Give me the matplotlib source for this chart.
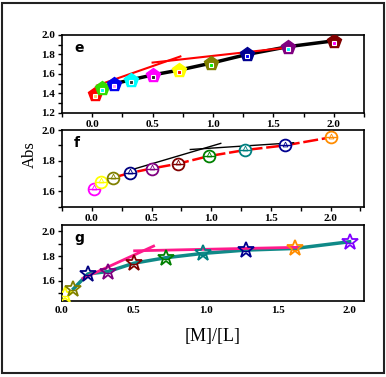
import matplotlib
matplotlib.use("Agg")
import matplotlib.pyplot as plt
import numpy as np
from matplotlib.patches import Rectangle
from matplotlib.ticker import MultipleLocator

# ratio [M]/[L]
ratio = [0.02, 0.08, 0.18, 0.32, 0.50, 0.72, 0.98, 1.28, 1.62, 2.00]

# panel e: pentagons
abs_e = [1.39, 1.46, 1.50, 1.54, 1.59, 1.64, 1.71, 1.80, 1.88, 1.94]
edge_e = ['red', '#33dd00', '#0000ee', 'cyan', 'magenta', 'yellow', '#808000', '#000090', '#800080', '#800000']
inner_e = ['#ffcc66', 'cyan', '#ff99ff', '#333333', '#222222', 'red', '#00ee00', '#0000ff', 'cyan', 'magenta']
fit_e1_x = [0.04, 0.73]
fit_e1_y = [1.482, 1.78]
fit_e2_x = [0.50, 1.64]
fit_e2_y = [1.717, 1.874]

# panel f: circles
abs_f = [1.618, 1.66, 1.69, 1.72, 1.749, 1.78, 1.83, 1.869, 1.90, 1.952]
edge_f = ['magenta', 'yellow', '#808000', '#000080', '#800080', '#800000', 'green', '#008080', '#000090', '#ff8c00']
fit_f1_x = [0.32, 1.08]
fit_f1_y = [1.738, 1.913]
fit_f2_x = [0.825, 1.69]
fit_f2_y = [1.873, 1.917]

# panel g: stars
abs_g = [1.488, 1.536, 1.656, 1.675, 1.742, 1.786, 1.821, 1.848, 1.861, 1.915]
edge_g = ['yellow', '#808000', '#000080', '#800080', '#800000', 'green', '#008080', '#000090', '#ff8c00', '#8000ff']
fit_g1_x = [0.146, 0.637]
fit_g1_y = [1.62, 1.88]
fit_g2_x = [0.505, 1.634]
fit_g2_y = [1.842, 1.87]

serif = 'Liberation Serif'

fig = plt.figure(figsize=(3.86, 3.77), dpi=100)
fig.patches.append(Rectangle((2/386, 4/377), 382/386, 370/377, transform=fig.transFigure,
                             fill=False, edgecolor='#222222', linewidth=1.5))

ax_e = fig.add_axes([0.1606, 0.7003, 0.7824, 0.2069])
ax_f = fig.add_axes([0.1606, 0.4517, 0.7824, 0.2034])
ax_g = fig.add_axes([0.1606, 0.2024, 0.7824, 0.2008])


def style(ax, label):
    for s in ax.spines.values():
        s.set_linewidth(1.2)
    ax.xaxis.set_major_locator(MultipleLocator(0.5))
    ax.xaxis.set_minor_locator(MultipleLocator(0.25))
    ax.tick_params(which='both', direction='out', width=1, labelsize=8, pad=2)
    ax.tick_params(which='major', length=3)
    ax.tick_params(which='minor', length=3)
    for t in ax.get_xticklabels() + ax.get_yticklabels():
        t.set_fontfamily(serif)
        t.set_fontweight('bold')
    ax.text(0.04, 0.78, label, transform=ax.transAxes, fontsize=10,
            fontweight='bold', fontfamily='DejaVu Sans')


# e
ax_e.plot(ratio[1:], abs_e[1:], color='black', lw=2.5, zorder=1)
ax_e.plot(fit_e1_x, fit_e1_y, color='red', lw=1.5, zorder=2)
ax_e.plot(fit_e2_x, fit_e2_y, color='red', lw=1.5, zorder=2)
for xv, yv, ec, ic in zip(ratio, abs_e, edge_e, inner_e):
    ax_e.plot(xv, yv, marker='p', ms=10, color=ec, mec=ec, zorder=3)
    ax_e.plot(xv, yv - 0.02, marker='s', ms=3.5, color=ic, mec='white', mew=0.8, zorder=4)
ax_e.set_xlim(-0.25, 2.25)
ax_e.set_ylim(1.2, 2.0)
ax_e.yaxis.set_major_locator(MultipleLocator(0.2))
ax_e.yaxis.set_minor_locator(MultipleLocator(0.1))
style(ax_e, 'e')

# f
ax_f.plot(ratio[1:], abs_f[1:], color='red', lw=1.8, ls=(0, (6, 1.5)), zorder=1)
ax_f.plot(fit_f1_x, fit_f1_y, color='black', lw=1, zorder=2)
ax_f.plot(fit_f2_x, fit_f2_y, color='black', lw=1, zorder=2)
for xv, yv, ec in zip(ratio, abs_f, edge_f):
    ax_f.plot(xv, yv, marker='o', ms=8.5, mfc='white', mec=ec, mew=1.3, zorder=3)
    ax_f.plot(xv, yv, marker='_', ms=8.5, mec=ec, mew=1.0, zorder=4)
    ax_f.plot(xv, yv + 0.012, marker='^', ms=3.5, mfc='none', mec=ec, mew=0.6, zorder=4)
ax_f.set_xlim(-0.25, 2.28)
ax_f.set_ylim(1.5, 2.0)
ax_f.yaxis.set_major_locator(MultipleLocator(0.2))
ax_f.yaxis.set_minor_locator(MultipleLocator(0.1))
style(ax_f, 'f')

# g
ax_g.plot(ratio[1:], abs_g[1:], color='#108a88', lw=2.5, zorder=1)
ax_g.plot(fit_g1_x, fit_g1_y, color='#ff1a8c', lw=2, zorder=2)
ax_g.plot(fit_g2_x, fit_g2_y, color='#ff1a8c', lw=2, zorder=2)
for xv, yv, ec in zip(ratio, abs_g, edge_g):
    ax_g.plot(xv, yv, marker='*', ms=12, mfc='none', mec=ec, mew=1.3, zorder=3)
    ax_g.plot(xv, yv - 0.01, marker='_', ms=5, mec=ec, mew=1.0, zorder=4)
ax_g.set_xlim(0, 2.1)
ax_g.set_ylim(1.44, 2.05)
ax_g.yaxis.set_major_locator(MultipleLocator(0.2))
ax_g.yaxis.set_minor_locator(MultipleLocator(0.1))
style(ax_g, 'g')
ax_g.tick_params(axis='x', which='both', length=0, pad=4)

fig.text(30/386, 1 - 155/377, 'Abs', rotation=90, ha='center', va='center',
         fontsize=12, fontfamily=serif)
fig.text(213/386, 1 - 337/377, '[M]/[L]', ha='center', va='center',
         fontsize=13, fontfamily=serif)

fig.savefig('out.png', dpi=100)
